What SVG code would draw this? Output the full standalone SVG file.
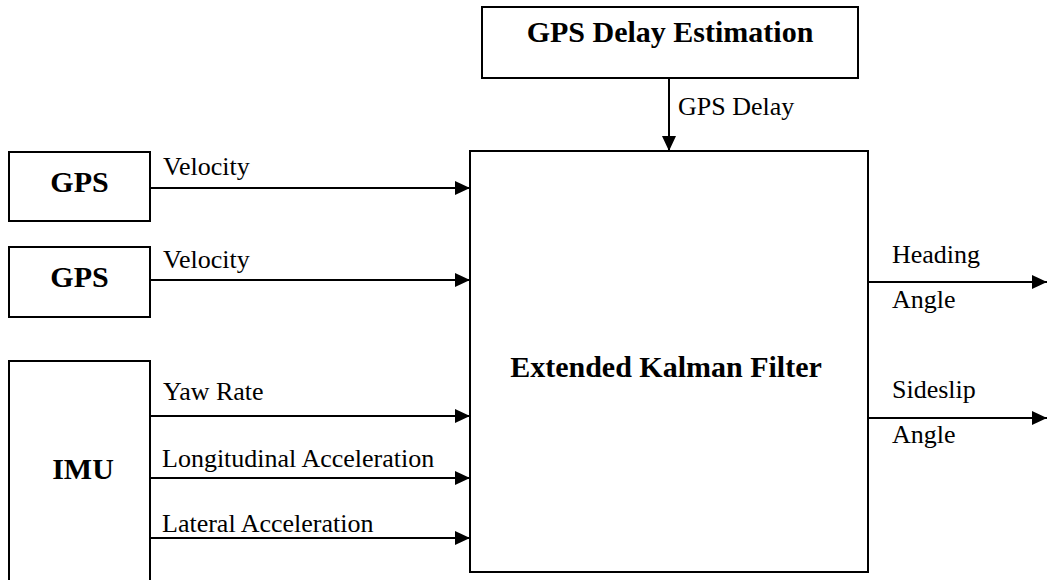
<svg xmlns="http://www.w3.org/2000/svg" width="1050" height="580" viewBox="0 0 1050 580">
<style>
.box{fill:#fff;stroke:#000;stroke-width:2}
.b{font-family:"Liberation Serif","Times New Roman",serif;font-weight:bold;font-size:30px;fill:#000;text-anchor:middle}
.t{font-family:"Liberation Serif","Times New Roman",serif;font-size:26px;fill:#000}
.c{stroke:#000;stroke-width:2;fill:none;marker-end:url(#ah)}
</style>
<defs>
<marker id="ah" markerUnits="userSpaceOnUse" markerWidth="16" markerHeight="16" viewBox="0 0 16 16" refX="15" refY="8" orient="auto">
<path d="M0,1 L15,8 L0,15 Z" fill="#000"/>
</marker>
</defs>
<rect width="1050" height="580" fill="#fff"/>
<g id="gps-delay-estimation">
<rect class="box" x="482" y="7" width="376" height="71"/>
<text class="b" x="670" y="42">GPS Delay Estimation</text>
</g>
<g id="gps1">
<rect class="box" x="9" y="152" width="141" height="69"/>
<text class="b" x="79.5" y="192">GPS</text>
</g>
<g id="gps2">
<rect class="box" x="9" y="247" width="141" height="70"/>
<text class="b" x="79.5" y="287">GPS</text>
</g>
<g id="imu">
<rect class="box" x="9" y="361" width="141" height="240"/>
<text class="b" x="83" y="479">IMU</text>
</g>
<g id="ekf">
<rect class="box" x="470" y="151" width="398" height="421"/>
<text class="b" x="666" y="377">Extended Kalman Filter</text>
</g>
<g id="connectors">
<line class="c" x1="669" y1="78" x2="669" y2="151"/>
<text class="t" x="678" y="115">GPS Delay</text>
<line class="c" x1="150" y1="188" x2="470" y2="188"/>
<text class="t" x="163" y="175">Velocity</text>
<line class="c" x1="150" y1="280" x2="470" y2="280"/>
<text class="t" x="163" y="268">Velocity</text>
<line class="c" x1="150" y1="416" x2="470" y2="416"/>
<text class="t" x="163" y="400">Yaw Rate</text>
<line class="c" x1="150" y1="478" x2="470" y2="478"/>
<text class="t" x="162" y="467">Longitudinal Acceleration</text>
<line class="c" x1="150" y1="538" x2="470" y2="538"/>
<text class="t" x="162" y="532">Lateral Acceleration</text>
<line class="c" x1="868" y1="282" x2="1047" y2="282"/>
<text class="t" x="892" y="263">Heading</text>
<text class="t" x="892" y="308">Angle</text>
<line class="c" x1="868" y1="418" x2="1047" y2="418"/>
<text class="t" x="892" y="398">Sideslip</text>
<text class="t" x="892" y="443">Angle</text>
</g>
</svg>
